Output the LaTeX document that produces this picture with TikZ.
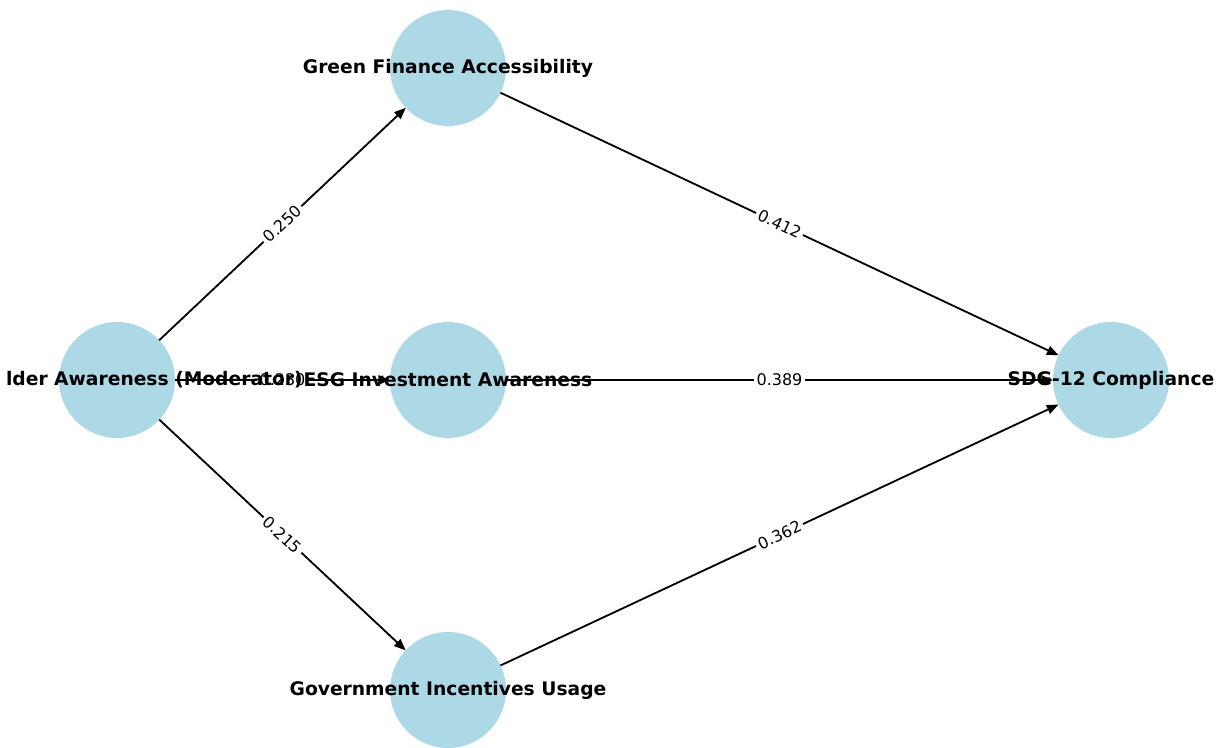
\documentclass[tikz,border=0pt]{standalone}
\usepackage{fontspec}
\setmainfont{DejaVu Sans}
\usepackage{tikz}
\usetikzlibrary{arrows.meta,positioning}
\definecolor{nodeblue}{RGB}{173,216,230}
\tikzstyle{factor} = [circle, fill=nodeblue, minimum size=2.9cm, inner sep=0pt, outer sep=0pt]
\tikzstyle{nodelabel} = [inner sep=0pt, font=\fontsize{13.3}{16}\selectfont\bfseries]
\tikzstyle{arrow} = [line width=1.3pt, -{Triangle[length=2.9mm,width=2.3mm]}, color=black]
\tikzstyle{weight} = [midway, sloped, fill=white, inner sep=2pt, font=\fontsize{11.4}{13}\selectfont]

\begin{document}
\begin{tikzpicture}
\useasboundingbox (0,0) rectangle (30.55,-18.675);
% Circles
\node (moderator) [factor] at (2.925,-9.5) {};
\node (esg) [factor, right of=moderator, node distance=8.275cm] {};
\node (green) [factor, above of=esg, node distance=7.8cm] {};
\node (gov) [factor, below of=esg, node distance=7.75cm] {};
\node (sdg) [factor, right of=esg, node distance=16.575cm] {};

% Paths
\draw[arrow] (moderator) -- (green) node[weight] {0.250};
\draw[arrow] (moderator) -- (esg) node[weight] {0.230};
\draw[arrow] (moderator) -- (gov) node[weight] {0.215};
\draw[arrow] (green) -- (sdg) node[weight] {0.412};
\draw[arrow] (esg) -- (sdg) node[weight] {0.389};
\draw[arrow] (gov) -- (sdg) node[weight] {0.362};

% Labels
\node (moderatortext) [nodelabel, anchor=east] at ([xshift=4.65cm]moderator.center) {lder Awareness (Moderator)};
\node (esgtext) [nodelabel] at (esg) {ESG Investment Awareness};
\node (greentext) [nodelabel] at (green) {Green Finance Accessibility};
\node (govtext) [nodelabel] at (gov) {Government Incentives Usage};
\node (sdgtext) [nodelabel] at (sdg) {SDG-12 Compliance};
\end{tikzpicture}
\end{document}
